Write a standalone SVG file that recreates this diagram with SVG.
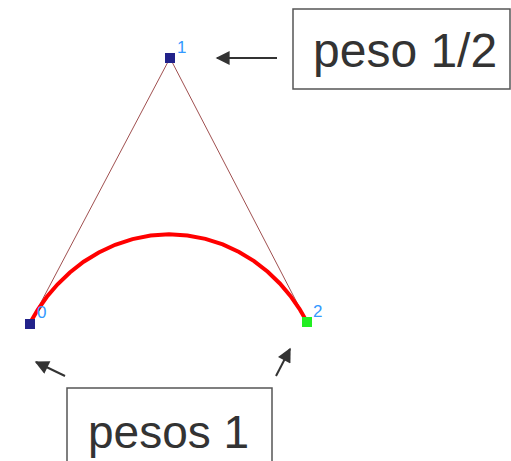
<svg xmlns="http://www.w3.org/2000/svg" width="511" height="461" viewBox="0 0 511 461">
<style>
.ctrl{fill:none;stroke:#a05050;stroke-width:1}
.curve{fill:none;stroke:#ff0000;stroke-width:4;stroke-linecap:round}
.pt{fill:#22228a}
.lbl{font-family:"Liberation Sans",Arial,sans-serif;font-size:17px;fill:#3399ff}
.box{fill:#ffffff;stroke:#555555;stroke-width:1.5}
.big{font-family:"Liberation Sans",Arial,sans-serif;fill:#333333}
.arr{fill:none;stroke:#333333;stroke-width:2;marker-end:url(#ah)}
</style>
<defs>
<marker id="ah" viewBox="0 0 10 10" refX="9" refY="5" markerWidth="8" markerHeight="7" markerUnits="strokeWidth" orient="auto">
<path d="M0,0 L10,5 L0,10 Z" fill="#333333"/>
</marker>
</defs>
<g id="polygon">
<polyline class="ctrl" points="30,323 170,58 307,322"/>
</g>
<g id="curve">
<path class="curve" d="M30,323 L37.71,309.78 L46.89,296.78 L57.60,284.25 L69.86,272.48 L83.62,261.77 L98.77,252.44 L115.16,244.80 L132.53,239.11 L150.59,235.57 L169,234.33 L187.40,235.44 L205.42,238.84 L222.73,244.41 L239.03,251.94 L254.08,261.15 L267.71,271.76 L279.84,283.45 L290.41,295.90 L299.44,308.84 L307,322"/>
</g>
<g id="p0">
<rect class="pt" x="25" y="319" width="10" height="10"/>
<text class="lbl" x="37" y="318">0</text>
</g>
<g id="p1">
<rect class="pt" x="165" y="53" width="10" height="10"/>
<text class="lbl" x="177" y="53">1</text>
</g>
<g id="p2">
<rect x="302" y="317" width="10" height="10" fill="#22ee22"/>
<text class="lbl" x="313" y="317">2</text>
</g>
<g id="label-top">
<rect class="box" x="293" y="9" width="217" height="80"/>
<text class="big" x="313" y="66.5" font-size="48">peso 1/2</text>
</g>
<g id="label-bottom">
<rect class="box" x="67" y="388" width="205" height="80"/>
<text class="big" x="88" y="448" font-size="46">pesos 1</text>
</g>
<g id="connectors">
<line class="arr" x1="277" y1="58" x2="217" y2="58"/>
<line class="arr" x1="65" y1="376" x2="36" y2="362"/>
<line class="arr" x1="276" y1="376" x2="290" y2="349"/>
</g>
</svg>
